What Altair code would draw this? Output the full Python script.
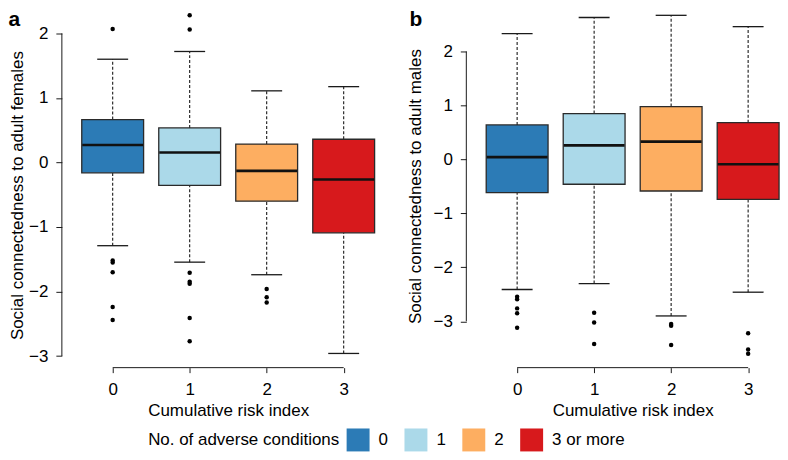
import altair as alt
import pandas as pd

GROUPS = [0, 1, 2, 3]
COND = ["0", "1", "2", "3 or more"]
COLORS = ["#2C7BB6", "#ABD9E9", "#FDAE61", "#D7191C"]
Y_TICKS = [-3, -2, -1, 0, 1, 2]

# Panel a: social connectedness to adult females
A_LOWER = [-1.29, -1.545, -1.74, -2.96]
A_Q1 = [-0.16, -0.355, -0.60, -1.09]
A_MED = [0.27, 0.155, -0.13, -0.263]
A_Q3 = [0.665, 0.535, 0.285, 0.36]
A_UPPER = [1.60, 1.72, 1.11, 1.175]
A_OUT = [[2.07, -1.52, -1.55, -1.70, -2.24, -2.44],
         [2.28, 2.06, -1.71, -1.85, -1.88, -2.41, -2.77],
         [-1.96, -2.09, -2.17],
         []]

# Panel b: social connectedness to adult males
B_LOWER = [-2.41, -2.30, -2.90, -2.46]
B_Q1 = [-0.615, -0.46, -0.585, -0.74]
B_MED = [0.043, 0.26, 0.33, -0.09]
B_Q3 = [0.64, 0.85, 0.98, 0.68]
B_UPPER = [2.33, 2.63, 2.67, 2.46]
B_OUT = [[-2.545, -2.59, -2.76, -2.85, -3.12],
         [-2.84, -3.02, -3.42],
         [-3.05, -3.08, -3.44],
         [-3.22, -3.52, -3.60]]

FONT = "Liberation Sans"
PX_PER_GROUP = 77.2
XMIN = -0.66
H = 360
INK = "#1a1a1a"


def panel(lower, q1, med, q3, upper, outs, ydom, xmax, ytitle, letter,
          ytitle_x, ytitle_y, letter_x):
    width = (xmax - XMIN) * PX_PER_GROUP
    stats = pd.DataFrame({"g": GROUPS, "cond": COND, "lower": lower, "q1": q1,
                          "med": med, "q3": q3, "upper": upper})
    out_df = pd.DataFrame([{"g": g, "v": v} for g, vals in zip(GROUPS, outs) for v in vals])
    yline = pd.DataFrame({"y0": [min(Y_TICKS)], "y1": [max(Y_TICKS)]})
    xline = pd.DataFrame({"x0": [GROUPS[0]], "x1": [GROUPS[-1]]})
    lab = pd.DataFrame({"t": [letter]})

    xs = alt.Scale(domain=[XMIN, xmax], nice=False, zero=False, padding=0)
    ys = alt.Scale(domain=ydom, nice=False, zero=False, padding=0)
    xaxis = alt.Axis(values=GROUPS, format="d", domain=False, grid=False, tickSize=5,
                     tickColor=INK, labelPadding=9, labelFontSize=17, labelColor="black",
                     labelFlush=False, title="Cumulative risk index", titleFontSize=17,
                     titleFontWeight="normal", titleColor="black",
                     titleX=(1.5 - XMIN) * PX_PER_GROUP, titleY=48,
                     titleBaseline="alphabetic", titleAlign="center")
    yaxis = alt.Axis(values=Y_TICKS, format="d", domain=False, grid=False, tickSize=6,
                     tickColor=INK, labelPadding=8, labelFontSize=17, labelColor="black",
                     labelFlush=False, title=ytitle, titleFontSize=17,
                     titleFontWeight="normal", titleColor="black", titleAngle=270,
                     titleX=ytitle_x, titleY=ytitle_y, titleBaseline="alphabetic",
                     titleAlign="center")

    def X(field="g"):
        return alt.X(f"{field}:Q", scale=xs, axis=xaxis)

    def Y(field):
        return alt.Y(f"{field}:Q", scale=ys, axis=yaxis)

    color = alt.Color("cond:N", scale=alt.Scale(domain=COND, range=COLORS),
                      legend=alt.Legend(title="No. of adverse conditions", orient="none",
                                        legendX=86.5, legendY=421, direction="horizontal",
                                        titleOrient="left", titleFontSize=17,
                                        titleFontWeight="normal", titleColor="black",
                                        titlePadding=7, titleLimit=400, labelFontSize=17,
                                        labelColor="black", labelOffset=9,
                                        columnPadding=16, symbolType="square",
                                        symbolSize=529, symbolStrokeWidth=0,
                                        symbolOpacity=1, padding=0))

    yrule = alt.Chart(yline).mark_rule(color=INK, strokeWidth=1).encode(
        x=alt.value(0), y=Y("y0"), y2="y1")
    xrule = alt.Chart(xline).mark_rule(color=INK, strokeWidth=1).encode(
        y=alt.value(H), x=X("x0"), x2="x1")
    base = alt.Chart(stats)
    wlo = base.mark_rule(color=INK, strokeWidth=1.1, strokeDash=[3, 2]).encode(
        x=X(), y=Y("lower"), y2="q1")
    whi = base.mark_rule(color=INK, strokeWidth=1.1, strokeDash=[3, 2]).encode(
        x=X(), y=Y("q3"), y2="upper")
    clo = base.mark_tick(orient="horizontal", size=31, thickness=1.3, color=INK,
                         opacity=1).encode(x=X(), y=Y("lower"))
    chi = base.mark_tick(orient="horizontal", size=31, thickness=1.3, color=INK,
                         opacity=1).encode(x=X(), y=Y("upper"))
    box = base.mark_bar(size=62, stroke="#2a2a2a", strokeWidth=1.3, opacity=1).encode(
        x=X(), y=Y("q1"), y2="q3", color=color)
    medt = base.mark_tick(orient="horizontal", size=61, thickness=2.6, color="#111111",
                          opacity=1).encode(x=X(), y=Y("med"))
    pts = alt.Chart(out_df).mark_circle(size=20, color="black", opacity=1).encode(
        x=X(), y=Y("v"))
    txt = alt.Chart(lab).mark_text(fontSize=21, fontWeight="bold", font=FONT,
                                   align="left", baseline="top",
                                   color="black").encode(
        x=alt.value(letter_x), y=alt.value(0), text="t:N")

    return alt.layer(yrule, xrule, wlo, whi, clo, chi, box, medt, pts, txt).properties(
        width=width, height=H)


pa = panel(A_LOWER, A_Q1, A_MED, A_Q3, A_UPPER, A_OUT, [-3.18, 2.385], 3.66,
           "Social connectedness to adult females", "a", -39, 187, -53.5)
pb = panel(B_LOWER, B_Q1, B_MED, B_Q3, B_UPPER, B_OUT, [-3.858, 2.795], 3.40,
           "Social connectedness to adult males", "b", -46, 178, -57)

chart = alt.hconcat(pa, pb, spacing=10.5).properties(padding=0).configure(
    font=FONT, view=alt.ViewConfig(stroke=None))

chart.save("out.html", embed_options={"renderer": "svg", "actions": False})
